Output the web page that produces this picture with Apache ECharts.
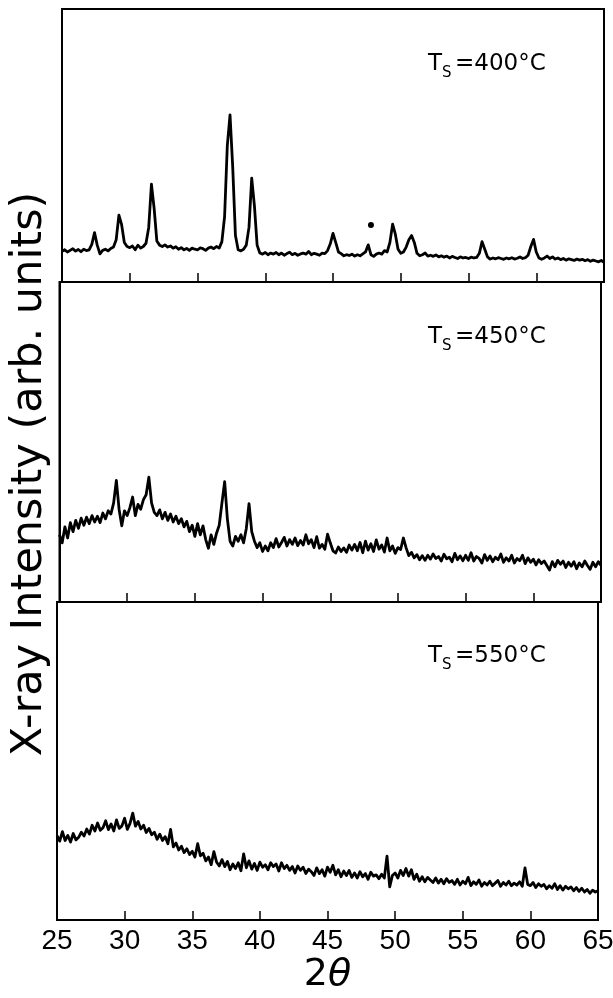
<!DOCTYPE html>
<html>
<head>
<meta charset="utf-8">
<script src="https://cdn.jsdelivr.net/npm/echarts@6/dist/echarts.min.js"></script>
<style>
  html, body { margin: 0; padding: 0; background: #fff; }
  #main { width: 613px; height: 998px; }
</style>
</head>
<body>
<div id="main"></div>
<script>
// scan: 2θ from 25 to 65 deg, one reading every 0.2 deg
const thetaStart = 25;
const thetaStep = 0.2;
const thetaMin = 25, thetaMax = 65, thetaTick = 5;

// substrate temperatures, top to bottom
const temps = ['400', '450', '550'];

// intensities (arb. units, 0..100 of each panel height)
const ts400 = [
  11.2, 11.8, 11.0, 11.6, 12.2, 11.3, 11.9, 11.1, 12.0, 11.5,
  11.8, 13.8, 18.1, 13.5, 10.3, 11.6, 12.0, 11.4, 12.3, 12.8,
  15.5, 24.5, 21.0, 14.5, 13.0, 12.6, 13.2, 11.8, 13.5, 12.4,
  13.0, 14.2, 20.0, 35.8, 27.0, 15.0, 13.5, 13.0, 13.6, 12.8,
  13.2, 12.4, 12.9, 12.0, 12.6, 11.8, 12.3, 11.6, 12.4, 12.0,
  11.8, 12.5, 12.2, 11.6, 12.4, 12.8, 12.2, 13.0, 12.4, 14.8,
  24.0, 50.0, 61.2, 42.0, 17.0, 11.8, 11.4, 12.0, 13.5, 20.0,
  38.0, 28.0, 13.5, 10.6, 10.2, 10.8, 10.0, 10.6, 10.2, 10.8,
  10.0, 10.6, 9.8, 10.4, 10.9, 10.0, 10.5, 9.8, 10.3, 10.6,
  10.2, 11.2, 10.0, 10.5, 10.2, 9.8, 10.6, 10.4, 11.5, 14.0,
  17.8, 14.5, 11.0, 10.4, 9.6, 10.0, 9.7, 10.2, 9.5, 10.0,
  9.6, 10.3, 11.0, 13.6, 10.0, 9.4, 10.2, 10.6, 10.2, 11.5,
  11.0, 14.5, 21.2, 17.5, 12.0, 10.5, 11.0, 12.8, 15.5, 17.0,
  14.5, 10.5, 9.6, 10.0, 10.6, 9.5, 9.8, 9.4, 9.9, 9.2,
  9.6, 9.1, 9.5, 8.8, 9.4, 9.0, 8.6, 9.2, 8.8, 9.0,
  8.6, 9.1, 8.8, 9.0, 10.5, 14.8, 12.0, 9.2, 8.4, 8.8,
  8.5, 8.9, 8.6, 8.3, 8.8, 8.5, 8.9, 8.4, 8.7, 9.2,
  8.6, 8.9, 9.8, 13.0, 15.6, 11.0, 8.8, 8.3, 8.8, 9.5,
  8.6, 9.2, 8.4, 8.8, 8.2, 8.6, 8.0, 8.5, 8.2, 7.9,
  8.4, 8.0, 8.3, 7.8, 8.2, 7.6, 8.0, 7.7, 7.4, 7.9, 7.2
];

const ts450 = [
  21.0, 18.5, 23.5, 20.0, 24.8, 22.0, 25.5, 23.0, 26.2, 24.0,
  26.5, 24.5, 27.0, 25.0, 26.8, 24.8, 27.8, 26.0, 28.5, 27.5,
  31.0, 38.0, 29.0, 23.8, 28.5, 27.0, 29.5, 32.8, 27.0, 30.5,
  29.0, 32.0, 33.5, 39.0, 31.0, 28.0, 27.0, 28.8, 26.0, 28.0,
  25.5, 27.5, 25.0, 26.8, 24.5, 26.0, 23.5, 25.2, 22.0, 24.0,
  20.5, 24.5, 21.0, 23.8, 19.5, 16.8, 21.0, 18.0, 21.5, 24.0,
  31.0, 37.6, 26.0, 19.0, 17.5, 20.5, 19.0, 21.0, 18.5, 23.0,
  30.7, 22.0, 19.0, 17.0, 18.5, 15.8, 17.5, 16.0, 18.5, 17.0,
  19.8, 17.2, 18.6, 20.2, 17.5, 19.5, 18.0, 20.0, 17.6, 19.2,
  17.8, 21.0, 18.2, 19.5, 17.0, 20.4, 16.8, 18.0, 16.5, 21.2,
  18.5, 16.0, 15.3, 17.2, 15.8, 16.9, 15.5, 17.8, 16.2, 18.0,
  16.0, 18.6, 15.4, 19.0, 16.2, 18.2, 15.8, 19.4, 16.5, 17.8,
  15.6, 20.0, 16.0, 17.5, 15.2, 17.0, 16.4, 20.0, 17.0, 14.5,
  15.5, 13.8, 14.8, 13.2, 14.5, 13.0, 14.6, 13.4, 15.0, 13.6,
  14.2, 12.8, 14.9, 13.5, 14.0, 12.6, 15.2, 13.2, 14.4, 12.9,
  14.6, 13.0, 15.4, 12.8, 14.2, 13.6, 12.2, 14.8, 13.0, 14.4,
  12.6, 14.0, 13.2, 15.0, 12.4, 13.8, 12.8, 14.6, 12.2, 13.6,
  12.9, 14.6, 12.0, 13.8, 12.4, 13.4, 11.6, 13.2, 12.0, 12.8,
  11.4, 10.0, 12.6, 11.0, 13.0, 11.8, 12.8, 10.8, 12.4, 11.2,
  12.6, 10.4, 12.2, 11.0, 12.8, 11.4, 10.2, 12.4, 11.0, 12.6, 11.4
];

const ts550 = [
  26.5, 24.8, 27.8, 25.0, 26.6, 24.5, 27.2, 25.2, 26.0, 27.6,
  26.4, 28.6, 27.0, 29.8, 28.0, 30.5, 28.2, 29.0, 31.2, 28.4,
  30.2, 28.0, 31.5, 28.8, 29.6, 32.0, 28.5, 30.4, 33.6, 29.5,
  31.0, 28.6, 29.8, 27.5, 28.8, 26.8, 27.6, 25.4, 27.0, 25.0,
  26.2, 24.0, 28.5, 23.0, 24.2, 22.0, 23.2, 21.2, 22.4, 20.6,
  21.6, 19.8, 24.0, 20.2, 21.0, 18.6, 19.8, 17.4, 21.5, 18.2,
  17.0, 19.0, 16.8, 18.4, 15.8, 17.6, 16.2, 18.0, 15.5, 20.8,
  16.4, 18.6, 16.0, 17.8, 15.6, 18.2, 16.6, 17.4, 15.8, 18.0,
  16.8, 17.6, 15.4, 18.0, 16.2, 17.2, 15.6, 16.8, 14.8, 17.0,
  15.6, 16.6, 14.6, 16.0, 15.2, 14.0, 16.4, 14.6, 15.8, 13.8,
  16.6, 15.0, 17.2, 14.2, 15.8, 13.6, 15.4, 14.0, 15.6, 13.4,
  14.8, 13.2, 15.2, 13.6, 14.6, 12.8, 15.0, 13.8, 14.2, 13.0,
  14.4, 13.2, 20.1, 10.4, 14.0, 14.8, 13.2, 15.6, 14.0, 16.2,
  13.8, 15.8, 12.8, 14.4, 12.2, 13.6, 12.0, 13.4, 12.6, 11.8,
  13.2, 11.6, 12.8, 11.4, 13.0, 11.8, 12.4, 11.2, 12.8, 11.0,
  12.2, 11.4, 13.4, 10.8, 12.0, 11.2, 12.6, 10.6, 11.8, 11.0,
  12.2, 10.8, 11.6, 12.4, 10.6, 11.8, 11.0, 12.2, 10.8, 11.6,
  11.0, 12.0, 10.6, 16.4, 11.2, 10.8, 11.8, 10.2, 11.4, 10.6,
  11.2, 9.8, 10.8, 10.0, 11.4, 9.6, 10.8, 9.4, 10.6, 9.8,
  10.4, 9.2, 10.2, 9.0, 10.0, 8.8, 9.6, 8.4, 9.4, 8.8, 9.2
];

// the marker dot above the 47.8 deg reflection (400 C)
const dot400 = [[47.8, 20.9]];

const scans = [ts400, ts450, ts550];

const toPairs = vals => vals.map((v, i) => [+(thetaStart + i * thetaStep).toFixed(1), v]);

// the scanned figure is a little skewed, so each frame sits a few px apart
const panels = [
  { left: 62, right: 9, top: 9, height: 273, labelY: 64 },
  { left: 59.5, right: 12, top: 282, height: 320, labelY: 337 },
  { left: 57, right: 15, top: 602, height: 318, labelY: 656 }
];

const black = '#000';
const font = '"DejaVu Sans", sans-serif';

const chart = echarts.init(document.getElementById('main'), null, { renderer: 'canvas' });

const grid = panels.map(p => ({
  left: p.left, right: p.right, top: p.top, height: p.height,
  containLabel: false, outerBoundsMode: 'none',
  show: true, borderColor: black, borderWidth: 2, backgroundColor: 'transparent'
}));

const xAxis = panels.map((p, k) => ({
  gridIndex: k,
  type: 'value',
  min: thetaMin, max: thetaMax, interval: thetaTick,
  axisLine: { show: true, lineStyle: { color: black, width: 2 } },
  axisTick: { show: true, inside: true, length: 9, lineStyle: { color: black, width: 1.5 } },
  splitLine: { show: false },
  axisLabel: {
    show: k === 2,
    showMinLabel: true, showMaxLabel: true,
    color: black, margin: 7,
    fontFamily: '"Liberation Sans Narrow", "Liberation Sans", sans-serif',
    fontSize: 28
  },
  name: k === 2 ? '{a|2}{b|θ}' : '',
  nameLocation: 'middle',
  nameGap: 30,
  nameTextStyle: {
    rich: {
      a: { fontFamily: font, fontSize: 38, color: black },
      b: { fontFamily: font, fontSize: 38, fontStyle: 'italic', color: black }
    }
  }
}));

const yAxis = panels.map((p, k) => ({
  gridIndex: k,
  type: 'value', min: 0, max: 100,
  axisLine: { show: true, lineStyle: { color: black, width: 2 } },
  axisTick: { show: false },
  axisLabel: { show: false },
  splitLine: { show: false }
}));

const series = scans.map((vals, k) => ({
  type: 'line',
  xAxisIndex: k, yAxisIndex: k,
  data: toPairs(vals),
  showSymbol: false,
  symbol: 'none',
  lineStyle: { color: black, width: 2.8, join: 'round' },
  z: 3
}));
series.push({
  type: 'scatter',
  xAxisIndex: 0, yAxisIndex: 0,
  data: dot400,
  symbolSize: 6,
  itemStyle: { color: black, opacity: 1 },
  z: 4
});

// T_S = ... labels, built from pieces so the S sits as a subscript
const graphic = [];
panels.forEach((p, k) => {
  graphic.push(
    { type: 'text', x: 428, y: p.labelY,
      style: { text: 'T', fill: black, font: '23px ' + font, textAlign: 'left', textVerticalAlign: 'middle', align: 'left', verticalAlign: 'middle' } },
    { type: 'text', x: 442, y: p.labelY + 9,
      style: { text: 'S', fill: black, font: '15px ' + font, textAlign: 'left', textVerticalAlign: 'middle', align: 'left', verticalAlign: 'middle' } },
    { type: 'text', x: 455, y: p.labelY,
      style: { text: '=' + temps[k] + '°C', fill: black, font: '23px ' + font, textAlign: 'left', textVerticalAlign: 'middle', align: 'left', verticalAlign: 'middle' } }
  );
});
graphic.push({
  type: 'text', x: 30, y: 474, rotation: Math.PI / 2,
  style: {
    text: 'X-ray Intensity (arb. units)', fill: black, font: '43px ' + font,
    textAlign: 'center', textVerticalAlign: 'middle', align: 'center', verticalAlign: 'middle'
  }
});

chart.setOption({
  animation: false,
  backgroundColor: '#fff',
  grid: grid,
  xAxis: xAxis,
  yAxis: yAxis,
  series: series,
  graphic: graphic
});
</script>
</body>
</html>
